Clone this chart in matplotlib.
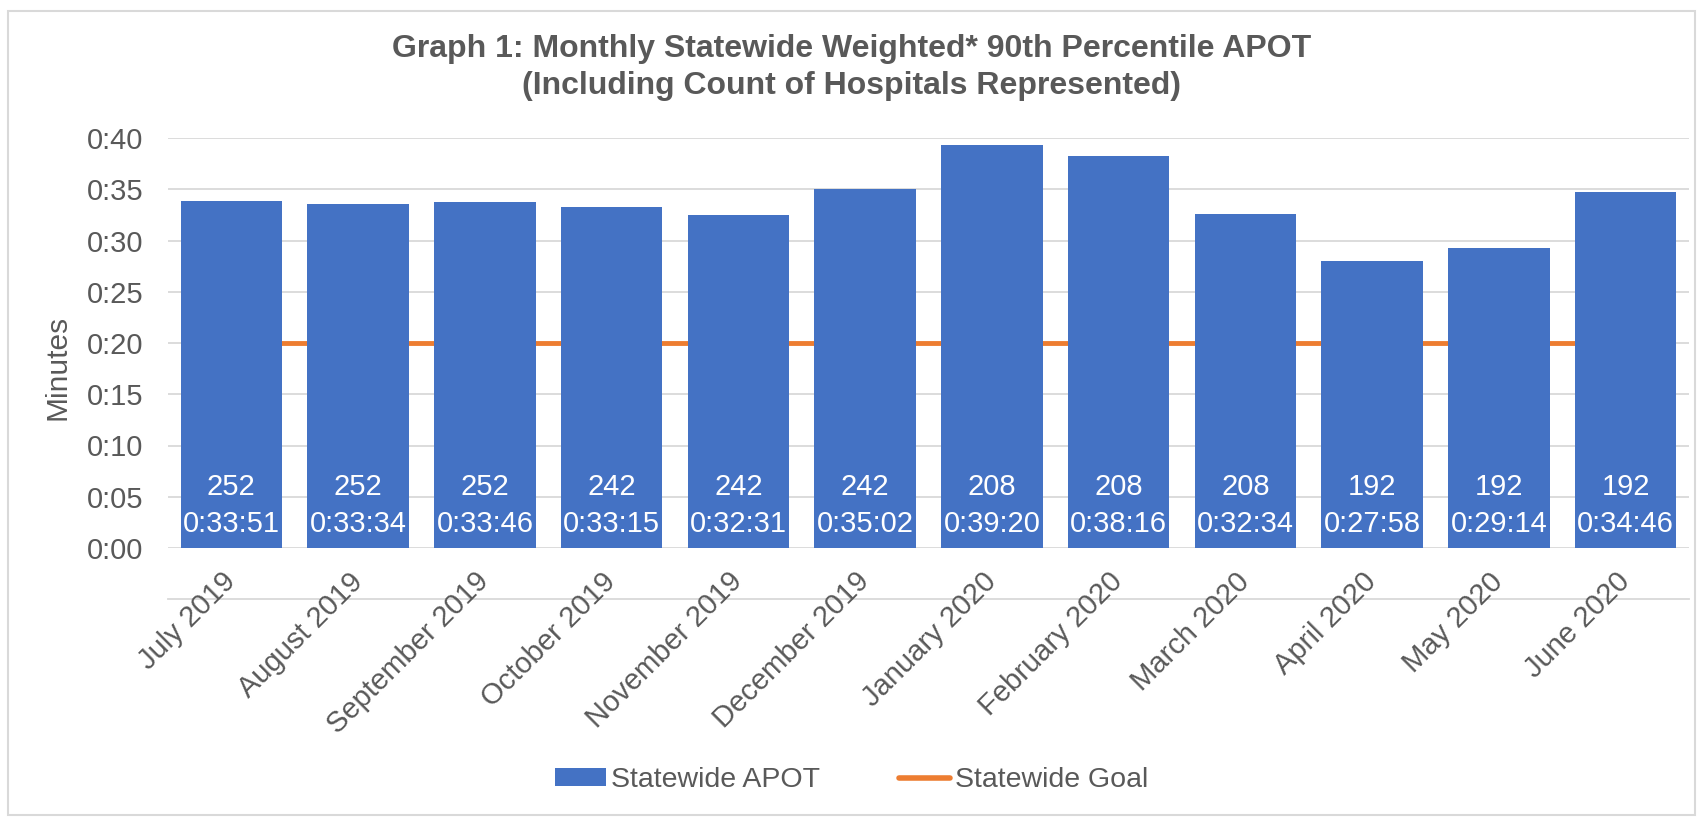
import matplotlib
matplotlib.use("Agg")
import matplotlib.pyplot as plt
from matplotlib.ticker import FuncFormatter, MultipleLocator
from matplotlib.patches import Rectangle, Patch
from matplotlib.lines import Line2D

plt.rcParams['font.family'] = ['Liberation Sans', 'DejaVu Sans']

months = ["July 2019", "August 2019", "September 2019", "October 2019", "November 2019",
          "December 2019", "January 2020", "February 2020", "March 2020", "April 2020",
          "May 2020", "June 2020"]
apot_times = ["0:33:51", "0:33:34", "0:33:46", "0:33:15", "0:32:31", "0:35:02",
              "0:39:20", "0:38:16", "0:32:34", "0:27:58", "0:29:14", "0:34:46"]
hospital_counts = [252, 252, 252, 242, 242, 242, 208, 208, 208, 192, 192, 192]
goal_minutes = [20] * 12

def to_minutes(t):
    h, m, s = [int(p) for p in t.split(":")]
    return h * 60 + m + s / 60

apot_minutes = [to_minutes(t) for t in apot_times]

BLUE = "#4472C4"
ORANGE = "#ED7D31"
GREY_TXT = "#595959"
GRID = "#D9D9D9"

fig = plt.figure(figsize=(17.03, 8.17), dpi=100)
ax = fig.add_axes([168/1703, 1-548/817, (1689-168)/1703, (548-138)/817])

x = list(range(len(months)))
ax.plot(x, goal_minutes, color=ORANGE, lw=3.5, zorder=2, solid_capstyle='butt')
ax.bar(x, apot_minutes, width=0.8, color=BLUE, zorder=3)

for i, (c, t) in enumerate(zip(hospital_counts, apot_times)):
    ax.annotate(f"{c}\n{t}", xy=(i, 0), xytext=(0, 7), textcoords='offset points',
                ha='center', va='bottom', color='white', fontsize=21, zorder=4,
                linespacing=1.4)

ax.set_ylim(0, 40)
ax.set_xlim(-0.5, len(months) - 0.5)
ax.yaxis.set_major_locator(MultipleLocator(5))
ax.yaxis.set_major_formatter(FuncFormatter(lambda v, p: f"0:{int(round(v)):02d}"))
ax.grid(axis='y', color=GRID, lw=1.3, zorder=0)
ax.set_axisbelow(True)
ax.axhline(-5, color=GRID, lw=1.3, clip_on=False, zorder=0)
for s in ax.spines.values():
    s.set_visible(False)
ax.tick_params(axis='both', length=0, colors=GREY_TXT, labelsize=21)
ax.tick_params(axis='y', pad=18)
ax.tick_params(axis='x', pad=21)
ax.set_xticks(x)
ax.set_xticklabels(months, rotation=45, ha='right', rotation_mode='anchor', va='center')
ax.set_ylabel("Minutes", color=GREY_TXT, fontsize=21.5)
ax.yaxis.set_label_coords((72-168)/1521, (548-367)/410)

fig.text(0.5, 1-49/817, "Graph 1: Monthly Statewide Weighted* 90th Percentile APOT",
         ha='center', va='center', fontsize=23, fontweight='bold', color=GREY_TXT)
fig.text(0.5, 1-86/817, "(Including Count of Hospitals Represented)",
         ha='center', va='center', fontsize=23, fontweight='bold', color=GREY_TXT)

handles = [Patch(facecolor=BLUE, label="Statewide APOT"),
           Line2D([0], [0], color=ORANGE, lw=4, label="Statewide Goal", solid_capstyle='round')]
fig.legend(handles=handles, loc='center', bbox_to_anchor=(0.5, 1-780/817), ncol=2,
           frameon=False, fontsize=20.5, labelcolor=GREY_TXT, handlelength=1.8,
           handleheight=0.55, handletextpad=0.15, columnspacing=2.8)

fig.add_artist(Rectangle((8/1703, 2/817), 1-16/1703, 1-13/817, transform=fig.transFigure,
                         fill=False, edgecolor=GRID, lw=1.5))

fig.savefig("out.png", dpi=100)
